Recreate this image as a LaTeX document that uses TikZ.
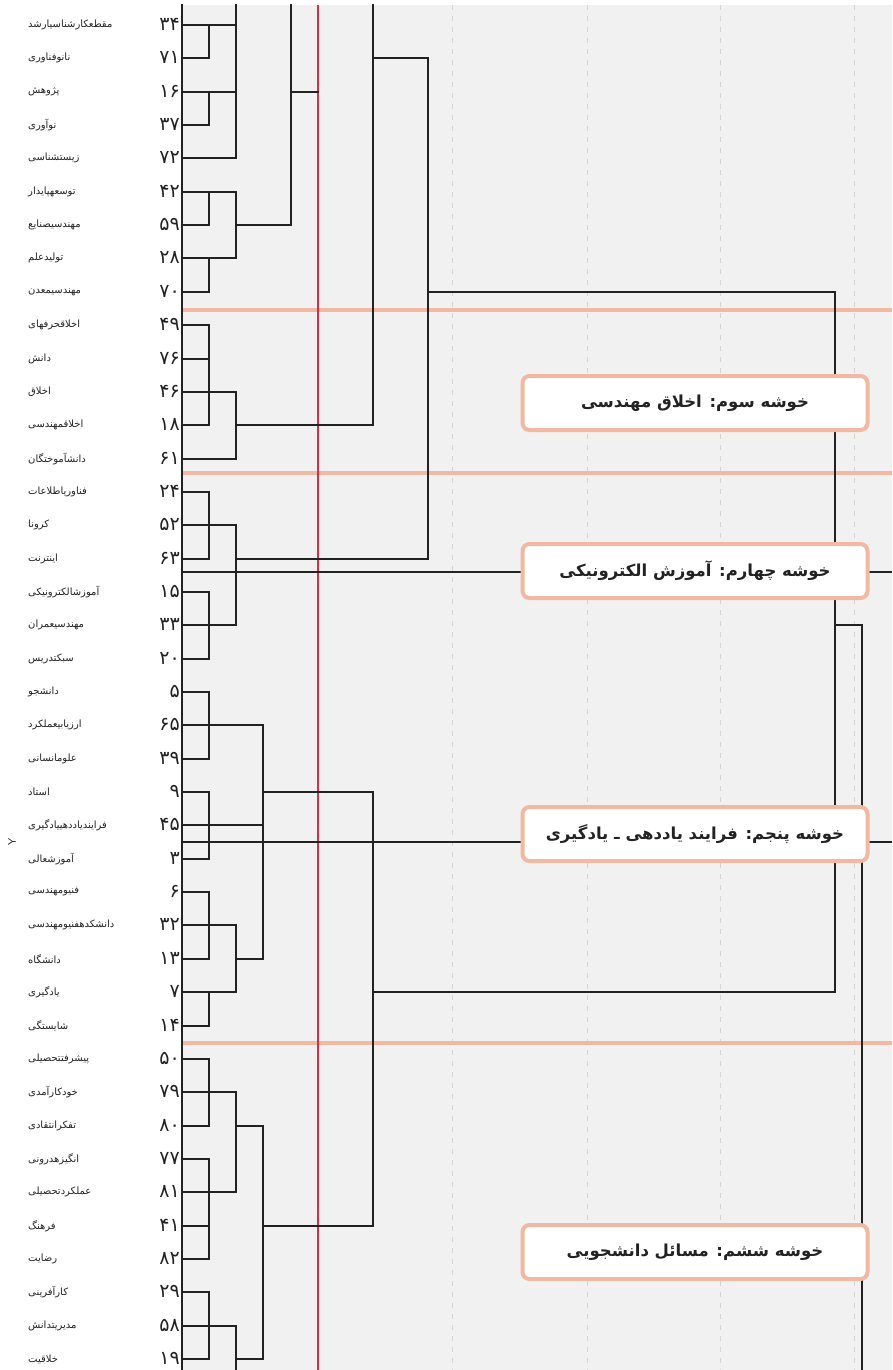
\documentclass[tikz,border=0pt]{standalone}
\usepackage{fontspec}
\newfontfamily\fafont[Script=Arabic]{DejaVu Sans}
\TeXXeTstate=1
\definecolor{panel}{HTML}{F0F1F0}
\definecolor{salmon}{HTML}{F1B8A3}
\definecolor{cutred}{HTML}{E3283F}
\definecolor{gridgray}{HTML}{D2D4D2}
\definecolor{ink}{HTML}{222222}

\begin{document}
\begin{tikzpicture}[x=1pt,y=-1pt]
\tikzstyle{branch} = [draw=ink, line width=1.8pt, line cap=rect]
\tikzstyle{term} = [font=\fafont\fontsize{10}{12}\selectfont, text=ink, anchor=west, inner sep=0pt]
\tikzstyle{num} = [font=\fafont\fontsize{19}{21}\selectfont, text=ink, anchor=east, inner sep=0pt]
\tikzstyle{cluster} = [draw=salmon, line width=4pt, fill=white, rounded corners=7pt, minimum width=345pt, minimum height=54pt, text=ink, font=\fafont\bfseries\fontsize{16.5}{18}\selectfont]

\useasboundingbox (0,0) rectangle (892,1370);
\fill[panel] (182,5) rectangle (892,1370);
\coordinate (top) at (0,5);
\coordinate (bottom) at (0,1370);

\foreach \gx in {452,587,720,854}
  \draw[gridgray, line width=1pt, dash pattern=on 5pt off 6pt] (\gx,5) -- (\gx,1370);
\foreach \sy in {310,473,1043}
  \draw[salmon, line width=4pt] (182,\sy) -- (892,\sy);
\draw[cutred, line width=1.5pt] (318,5) -- (318,1370);

\foreach \num/\lbl [count=\i] in {۳۴/مقطعکارشناسیارشد, ۷۱/نانوفناوری, ۱۶/پژوهش, ۳۷/نوآوری, ۷۲/زیستشناسی, ۴۲/توسعهپایدار, ۵۹/مهندسیصنایع, ۲۸/تولیدعلم, ۷۰/مهندسیمعدن, ۴۹/اخلاقحرفهای, ۷۶/دانش, ۴۶/اخلاق, ۱۸/اخلاقمهندسی, ۶۱/دانشآموختگان, ۲۴/فناوریاطلاعات, ۵۲/کرونا, ۶۳/اینترنت, ۱۵/آموزشالکترونیکی, ۳۳/مهندسیعمران, ۲۰/سبکتدریس, ۵/دانشجو, ۶۵/ارزیابیعملکرد, ۳۹/علومانسانی, ۹/استاد, ۴۵/فرایندیاددهییادگیری, ۳/آموزشعالی, ۶/فنیومهندسی, ۳۲/دانشکدهفنیومهندسی, ۱۳/دانشگاه, ۷/یادگیری, ۱۴/شایستگی, ۵۰/پیشرفتتحصیلی, ۷۹/خودکارآمدی, ۸۰/تفکرانتقادی, ۷۷/انگیزهدرونی, ۸۱/عملکردتحصیلی, ۴۱/فرهنگ, ۸۲/رضایت, ۲۹/کارآفرینی, ۵۸/مدیریتدانش, ۱۹/خلاقیت} {
  \pgfmathsetmacro{\ry}{round(25+(\i-1)*33.35)}
  \coordinate (l\i) at (182,\ry);
  \node[num] (n\i) at (180,\ry-1) {\num};
  \node[term] (t\i) at (28,\ry) {\beginR\lbl\endR};
}

\draw[branch] (182,0 |- top) -- (182,0 |- bottom);
\foreach \i/\xe in {1/236,2/209,3/236,4/209,5/236,6/236,7/209,8/236,9/209,10/209,11/209,12/236,13/209,14/236,15/209,16/236,17/209,18/209,19/236,20/209,21/209,22/263,23/209,24/209,25/263,26/209,27/209,28/236,29/209,30/236,31/209,32/209,33/236,34/209,35/209,36/236,37/209,38/209,39/209,40/236,41/209}
  \draw[branch] (l\i) -- (\xe,0 |- l\i);
\foreach \a/\b in {1/2,3/4,6/7,8/9,10/13,15/17,18/20,21/23,24/26,27/29,30/31,32/34,35/38,39/41}
  \draw[branch] (209,0 |- l\a) -- (209,0 |- l\b);
\foreach \a/\b in {6/8,12/14,16/19,28/30,33/36}
  \draw[branch] (236,0 |- l\a) -- (236,0 |- l\b);
\draw[branch] (236,0 |- top) -- (236,0 |- l5);
\draw[branch] (236,0 |- l40) -- (236,0 |- bottom);
\draw[branch] (263,0 |- l22) -- (263,0 |- l29);
\draw[branch] (263,0 |- l34) -- (263,0 |- l41);
\foreach \i in {29,34,41}
  \draw[branch] (236,0 |- l\i) -- (263,0 |- l\i);

\draw[branch] (236,0 |- l7) -- (291,0 |- l7);
\draw[branch] (291,0 |- top) -- (291,0 |- l7);
\draw[branch] (291,0 |- l3) -- (318,0 |- l3);
\draw[branch] (236,0 |- l13) -- (373,0 |- l13);
\draw[branch] (373,0 |- top) -- (373,0 |- l13);
\draw[branch] (373,0 |- l2) -- (428,0 |- l2);
\draw[branch] (236,0 |- l17) -- (428,0 |- l17);
\draw[branch] (428,0 |- l2) -- (428,0 |- l17);
\draw[branch] (428,0 |- l9) -- (835,0 |- l9);
\draw[branch] (835,0 |- l9) -- (835,0 |- l30);
\draw[branch] (835,0 |- l19) -- (862,0 |- l19);
\draw[branch] (862,0 |- l19) -- (862,0 |- bottom);
\draw[branch] (263,0 |- l24) -- (373,0 |- l24);
\draw[branch] (263,0 |- l37) -- (373,0 |- l37);
\draw[branch] (373,0 |- l24) -- (373,0 |- l37);
\draw[branch] (373,0 |- l30) -- (835,0 |- l30);

\draw[ink, line width=1.2pt] (182,572) -- (892,572);
\draw[ink, line width=1.2pt] (182,842) -- (892,842);

\node[rotate=90, font=\sffamily\fontsize{11}{12}\selectfont, text=ink] (ylab) at (12,842) {Y};

\node[cluster] (c3) at (695,403) {\beginR خوشه سوم: اخلاق مهندسی\endR};
\node[cluster] (c4) at (695,571) {\beginR خوشه چهارم: آموزش الکترونیکی\endR};
\node[cluster] (c5) at (695,834) {\beginR خوشه پنجم: فرایند یاددهی ـ یادگیری\endR};
\node[cluster] (c6) at (695,1252) {\beginR خوشه ششم: مسائل دانشجویی\endR};
\end{tikzpicture}
\end{document}
